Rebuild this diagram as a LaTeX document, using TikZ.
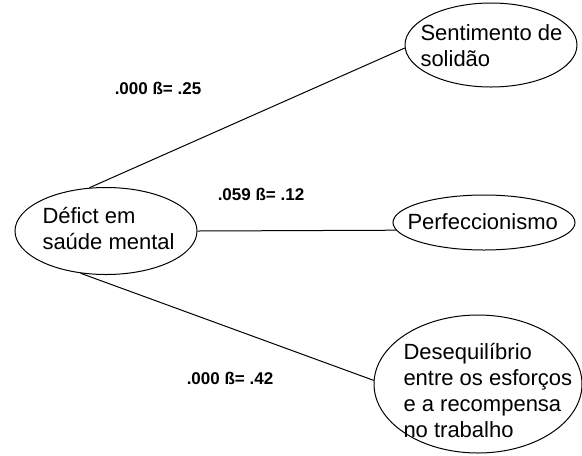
\documentclass[tikz,border=0pt]{standalone}
\usepackage{fontspec}
\setmainfont{Liberation Sans}
\usetikzlibrary{shapes.geometric}

\tikzset{every picture/.style={line width=0.75pt}}
\tikzset{
  oval/.style={draw, ellipse, inner sep=0pt},
  txt/.style={inner sep=0pt, anchor=west, align=left, font=\fontsize{16.5}{19.5}\selectfont},
  coef/.style={inner sep=0pt, font=\bfseries\fontsize{12.75}{15}\selectfont}
}

\begin{document}
\begin{tikzpicture}[x=0.75pt,y=0.75pt,yscale=-1,xscale=1]
\useasboundingbox (0,0) rectangle (582,455);

%Shape: Ellipses
\node [oval, minimum width=136.5pt, minimum height=65.25pt] (deficit) at (106,231) {};
\node [oval, minimum width=129pt, minimum height=63pt] (solidao) at (491,45) {};
\node [oval, minimum width=136.5pt, minimum height=41.25pt] (perfec) at (484,222.5) {};
\node [oval, minimum width=156pt, minimum height=103.5pt] (desequil) at (478,384) {};

% Text Node
\node [txt] (deficitTxt) at (42,228) {Défict em\\saúde mental};
\node [txt] (solidaoTxt) at (420,46) {Sentimento de\\solidão};
\node [txt] (perfecTxt) at (407,222) {Perfeccionismo};
\node [txt] (desequilTxt) at (403,390) {Desequilíbrio\\entre os esforços\\e a recompensa\\no trabalho};

%Straight Lines
\draw (deficit.111) -- (solidao.182);
\draw (deficit.east) -- (perfec.185);
\draw (deficit.239) -- (desequil.178);

% Text Node
\node [coef] (coefSolidao) at (158,88) {.000 ß= .25};
\node [coef] (coefPerfec) at (261,194) {.059 ß= .12};
\node [coef] (coefDesequil) at (230,378) {.000 ß= .42};

\end{tikzpicture}
\end{document}
